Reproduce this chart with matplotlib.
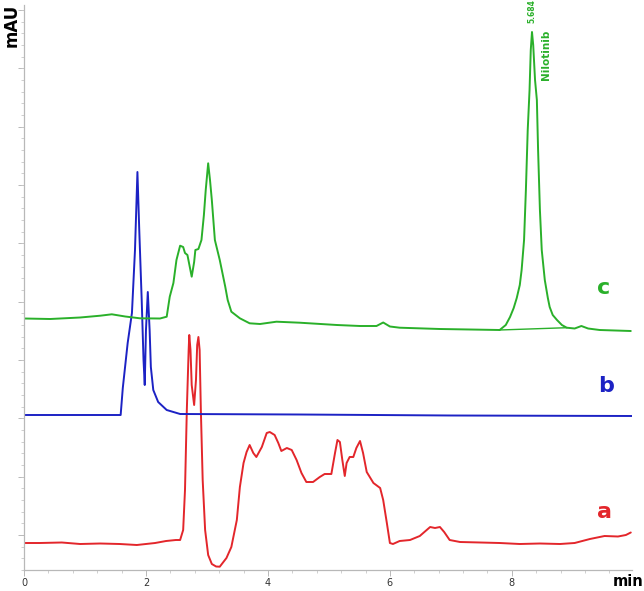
import matplotlib
matplotlib.use("Agg")
import matplotlib.pyplot as plt
from matplotlib.ticker import MultipleLocator

# chromatogram a (red) - time in min, signal in mAU (arbitrary offset scale)
a_time = [0.00, 0.26, 0.62, 0.92, 1.25, 1.57, 1.85, 2.15, 2.33, 2.49, 2.56, 2.61, 2.64, 2.67,
          2.70, 2.71, 2.73, 2.75, 2.79, 2.82, 2.84, 2.86, 2.88, 2.90, 2.93, 2.97, 3.02, 3.08,
          3.15, 3.21, 3.32, 3.40, 3.49, 3.54, 3.60, 3.65, 3.70, 3.76, 3.81, 3.90, 3.98, 4.03,
          4.11, 4.17, 4.22, 4.31, 4.39, 4.47, 4.55, 4.63, 4.74, 4.85, 4.93, 5.04, 5.10, 5.14,
          5.18, 5.22, 5.26, 5.29, 5.34, 5.40, 5.45, 5.51, 5.56, 5.62, 5.73, 5.84, 5.89, 5.95,
          6.00, 6.05, 6.16, 6.33, 6.49, 6.66, 6.74, 6.82, 6.89, 6.98, 7.15, 7.48, 7.80, 8.13,
          8.46, 8.79, 9.03, 9.28, 9.52, 9.74, 9.87, 9.95]
a_signal = [27, 27, 27.5, 26, 26.5, 26, 25, 27, 29, 30, 30, 40, 80, 160,
            220, 235, 220, 185, 165, 190, 225, 233, 220, 160, 90, 40, 15, 6,
            3.5, 3.3, 12, 23, 50, 83, 107, 118, 125, 117, 113, 123, 137, 138,
            135, 127, 119, 122, 120, 110, 97, 88, 88, 93, 96, 96, 117, 130,
            128, 110, 94, 107, 113, 113, 122, 129, 117, 98, 87, 82, 70, 47,
            27, 26, 29, 30, 34, 43, 42, 43, 38, 30, 28, 27.5, 27, 26,
            26.5, 26, 27, 31, 34, 33.5, 35, 37.5]

# chromatogram b (blue)
b_time = [0.00, 1.585, 1.62, 1.70, 1.77, 1.82, 1.86, 1.89, 1.93, 1.96, 1.98, 2.00, 2.03,
          2.06, 2.08, 2.12, 2.20, 2.34, 2.56, 4.50, 7.00, 9.97]
b_signal = [155, 155, 182, 227, 257, 320, 398, 340, 270, 210, 185, 240, 278,
            240, 203, 180, 168, 160, 156, 155.5, 154.5, 154]

# chromatogram c (green)
c_time = [0.00, 0.43, 0.92, 1.25, 1.44, 1.66, 1.90, 2.23, 2.34, 2.39, 2.45, 2.50, 2.56, 2.61,
          2.64, 2.68, 2.75, 2.79, 2.81, 2.86, 2.91, 2.95, 2.98, 3.02, 3.05, 3.08, 3.13, 3.21,
          3.30, 3.34, 3.40, 3.54, 3.70, 3.87, 4.14, 4.52, 5.13, 5.51, 5.78, 5.89, 6.00, 6.16,
          6.82, 7.31, 7.80, 7.90, 7.97, 8.03, 8.08, 8.13, 8.16, 8.20, 8.23, 8.26, 8.29, 8.31,
          8.33, 8.35, 8.38, 8.41, 8.43, 8.46, 8.49, 8.54, 8.59, 8.62, 8.67, 8.74, 8.82, 8.90,
          9.03, 9.14, 9.25, 9.44, 9.95]
c_signal = [251.5, 251, 252.5, 254.3, 255.7, 253.5, 251.7, 251.5, 253.3, 273.3, 287, 310, 324.3, 323,
            317, 315, 293.3, 308, 320, 321, 330, 355, 380, 406.7, 390, 370, 330, 310,
            283.3, 270, 258.3, 251.7, 246.7, 246, 248.3, 247.3, 245, 244, 244, 247.5, 243.5, 242.3,
            241, 240.5, 240, 245, 253, 262, 272, 285, 300, 330, 380, 440, 480, 520,
            538, 525, 490, 470, 420, 360, 320, 290, 272, 263, 255, 250, 245, 242.3,
            241.5, 244, 241.5, 240, 239]

# integration baseline under the Nilotinib peak
base_time = [7.80, 8.90]
base_signal = [240, 242.3]

peak_rt = 8.33
peak_label = "5.684"
peak_name = "Nilotinib"

red = "#e3262b"
blue = "#1c22c4"
green = "#2ab02a"

fig = plt.figure(figsize=(6.44, 5.91), dpi=100)
ax = fig.add_axes([24 / 644, 21 / 591, 608 / 644, 565 / 591])

line_kw = dict(lw=1.4, solid_joinstyle="round", solid_capstyle="round")
ax.plot(a_time, a_signal, color=red, **line_kw)
ax.plot(b_time, b_signal, color=blue, **line_kw)
ax.plot(c_time, c_signal, color=green, **line_kw)
ax.plot(base_time, base_signal, color=green, lw=1.0)

ax.set_xlim(0, 9.97)
ax.set_ylim(0, 565)

for s in ["top", "right"]:
    ax.spines[s].set_visible(False)
for s in ["left", "bottom"]:
    ax.spines[s].set_color("#b8b8b8")
    ax.spines[s].set_linewidth(0.9)

ax.xaxis.set_major_locator(MultipleLocator(2))
ax.xaxis.set_minor_locator(MultipleLocator(0.4))
ax.yaxis.set_major_locator(MultipleLocator(58.33, offset=35))
ax.yaxis.set_minor_locator(MultipleLocator(11.667))
ax.tick_params(axis="both", which="major", length=4, width=0.7, color="#b8b8b8")
ax.tick_params(axis="both", which="minor", length=2.5, width=0.6, color="#c8c8c8")
ax.tick_params(axis="x", labelsize=7, labelcolor="#333333", pad=2)
ax.tick_params(axis="y", labelleft=False)

# peak annotations
ax.text(peak_rt, 547, peak_label, rotation=90, ha="center", va="bottom",
        fontsize=5.5, color=green, fontweight="bold")
ax.text(peak_rt + 0.23, 540, peak_name, rotation=90, ha="center", va="top",
        fontsize=7.5, color=green, fontweight="bold")

# trace letters
ax.text(9.51, 282, "c", color=green, fontsize=16, fontweight="bold", ha="center", va="center")
ax.text(9.54, 184, "b", color=blue, fontsize=16, fontweight="bold", ha="center", va="center")
ax.text(9.52, 58, "a", color=red, fontsize=16, fontweight="bold", ha="center", va="center")

fig.text(12 / 644, 1 - 4 / 591, "mAU", rotation=90, ha="center", va="top",
         fontsize=12, fontweight="bold")
fig.text(0.999, 1 - 581 / 591, "min", ha="right", va="center",
         fontsize=10.5, fontweight="bold")

fig.savefig("out.png", dpi=100)
